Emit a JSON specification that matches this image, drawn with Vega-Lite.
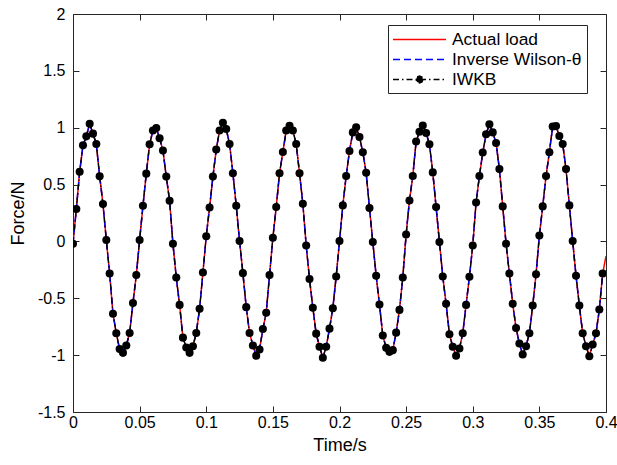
{
"$schema": "https://vega.github.io/schema/vega-lite/v6.json",
"width": 533, "height": 398,
"autosize": {"type": "none"},
"padding": {"left": 73, "top": 14, "right": 11, "bottom": 53},
"background": "white",
"config": {
  "font": "Liberation Sans",
  "view": {"stroke": "#262626", "strokeWidth": 1},
  "axis": {"grid": false, "domainColor": "#262626", "tickColor": "#262626", "labelColor": "#000000", "titleColor": "#000000", "labelFontSize": 16, "titleFontSize": 18, "titleFontWeight": "normal", "tickSize": -6, "labelFlush": false, "labelOverlap": false, "labelFont": "Liberation Sans", "titleFont": "Liberation Sans"}
},
"data": {"values": [
{"t":0,"a":-0.02,"w":-0.02,"k":-0.02},
{"t":0.0025,"a":0.285,"w":0.285,"k":0.285},
{"t":0.005,"a":0.613,"w":0.613,"k":0.613},
{"t":0.0075,"a":0.846,"w":0.846,"k":0.846},
{"t":0.01,"a":0.924,"w":0.924,"k":0.924},
{"t":0.0125,"a":1.035,"w":1.035,"k":1.035},
{"t":0.015,"a":0.948,"w":0.948,"k":0.948},
{"t":0.0175,"a":0.857,"w":0.857,"k":0.857},
{"t":0.02,"a":0.573,"w":0.573,"k":0.573},
{"t":0.0225,"a":0.329,"w":0.329,"k":0.329},
{"t":0.025,"a":0.012,"w":0.012,"k":0.012},
{"t":0.0275,"a":-0.282,"w":-0.282,"k":-0.282},
{"t":0.03,"a":-0.636,"w":-0.636,"k":-0.636},
{"t":0.0325,"a":-0.808,"w":-0.808,"k":-0.808},
{"t":0.035,"a":-0.947,"w":-0.947,"k":-0.947},
{"t":0.0375,"a":-0.98,"w":-0.98,"k":-0.98},
{"t":0.04,"a":-0.915,"w":-0.915,"k":-0.915},
{"t":0.0425,"a":-0.805,"w":-0.805,"k":-0.805},
{"t":0.045,"a":-0.541,"w":-0.541,"k":-0.541},
{"t":0.0475,"a":-0.296,"w":-0.296,"k":-0.296},
{"t":0.05,"a":0.012,"w":0.012,"k":0.012},
{"t":0.0525,"a":0.314,"w":0.314,"k":0.314},
{"t":0.055,"a":0.596,"w":0.596,"k":0.596},
{"t":0.0575,"a":0.854,"w":0.854,"k":0.854},
{"t":0.06,"a":0.976,"w":0.976,"k":0.976},
{"t":0.0625,"a":0.997,"w":0.997,"k":0.997},
{"t":0.065,"a":0.907,"w":0.907,"k":0.907},
{"t":0.0675,"a":0.799,"w":0.799,"k":0.799},
{"t":0.07,"a":0.57,"w":0.57,"k":0.57},
{"t":0.0725,"a":0.357,"w":0.357,"k":0.357},
{"t":0.075,"a":-0.02,"w":-0.02,"k":-0.02},
{"t":0.0775,"a":-0.317,"w":-0.317,"k":-0.317},
{"t":0.08,"a":-0.558,"w":-0.558,"k":-0.558},
{"t":0.0825,"a":-0.846,"w":-0.846,"k":-0.846},
{"t":0.085,"a":-0.933,"w":-0.933,"k":-0.933},
{"t":0.0875,"a":-0.98,"w":-0.98,"k":-0.98},
{"t":0.09,"a":-0.921,"w":-0.921,"k":-0.921},
{"t":0.0925,"a":-0.805,"w":-0.805,"k":-0.805},
{"t":0.095,"a":-0.593,"w":-0.593,"k":-0.593},
{"t":0.0975,"a":-0.273,"w":-0.273,"k":-0.273},
{"t":0.1,"a":0.046,"w":0.046,"k":0.046},
{"t":0.1025,"a":0.299,"w":0.299,"k":0.299},
{"t":0.105,"a":0.57,"w":0.57,"k":0.57},
{"t":0.1075,"a":0.808,"w":0.808,"k":0.808},
{"t":0.11,"a":0.976,"w":0.976,"k":0.976},
{"t":0.1125,"a":1.043,"w":1.043,"k":1.043},
{"t":0.115,"a":0.988,"w":0.988,"k":0.988},
{"t":0.1175,"a":0.857,"w":0.857,"k":0.857},
{"t":0.12,"a":0.599,"w":0.599,"k":0.599},
{"t":0.1225,"a":0.314,"w":0.314,"k":0.314},
{"t":0.125,"a":0.003,"w":0.003,"k":0.003},
{"t":0.1275,"a":-0.279,"w":-0.279,"k":-0.279},
{"t":0.13,"a":-0.578,"w":-0.578,"k":-0.578},
{"t":0.1325,"a":-0.805,"w":-0.805,"k":-0.805},
{"t":0.135,"a":-0.915,"w":-0.915,"k":-0.915},
{"t":0.1375,"a":-1.006,"w":-1.006,"k":-1.006},
{"t":0.14,"a":-0.95,"w":-0.95,"k":-0.95},
{"t":0.1425,"a":-0.77,"w":-0.77,"k":-0.77},
{"t":0.145,"a":-0.628,"w":-0.628,"k":-0.628},
{"t":0.1475,"a":-0.296,"w":-0.296,"k":-0.296},
{"t":0.15,"a":0.032,"w":0.032,"k":0.032},
{"t":0.1525,"a":0.302,"w":0.302,"k":0.302},
{"t":0.155,"a":0.599,"w":0.599,"k":0.599},
{"t":0.1575,"a":0.787,"w":0.787,"k":0.787},
{"t":0.16,"a":0.976,"w":0.976,"k":0.976},
{"t":0.1625,"a":1.017,"w":1.017,"k":1.017},
{"t":0.165,"a":0.976,"w":0.976,"k":0.976},
{"t":0.1675,"a":0.857,"w":0.857,"k":0.857},
{"t":0.17,"a":0.599,"w":0.599,"k":0.599},
{"t":0.1725,"a":0.331,"w":0.331,"k":0.331},
{"t":0.175,"a":-0.035,"w":-0.035,"k":-0.035},
{"t":0.1775,"a":-0.331,"w":-0.331,"k":-0.331},
{"t":0.18,"a":-0.584,"w":-0.584,"k":-0.584},
{"t":0.1825,"a":-0.811,"w":-0.811,"k":-0.811},
{"t":0.185,"a":-0.927,"w":-0.927,"k":-0.927},
{"t":0.1875,"a":-1.023,"w":-1.023,"k":-1.023},
{"t":0.19,"a":-0.927,"w":-0.927,"k":-0.927},
{"t":0.1925,"a":-0.767,"w":-0.767,"k":-0.767},
{"t":0.195,"a":-0.587,"w":-0.587,"k":-0.587},
{"t":0.1975,"a":-0.308,"w":-0.308,"k":-0.308},
{"t":0.2,"a":0.003,"w":0.003,"k":0.003},
{"t":0.2025,"a":0.317,"w":0.317,"k":0.317},
{"t":0.205,"a":0.575,"w":0.575,"k":0.575},
{"t":0.2075,"a":0.796,"w":0.796,"k":0.796},
{"t":0.21,"a":0.959,"w":0.959,"k":0.959},
{"t":0.2125,"a":1.003,"w":1.003,"k":1.003},
{"t":0.215,"a":0.918,"w":0.918,"k":0.918},
{"t":0.2175,"a":0.785,"w":0.785,"k":0.785},
{"t":0.22,"a":0.604,"w":0.604,"k":0.604},
{"t":0.2225,"a":0.294,"w":0.294,"k":0.294},
{"t":0.225,"a":-0.006,"w":-0.006,"k":-0.006},
{"t":0.2275,"a":-0.302,"w":-0.302,"k":-0.302},
{"t":0.23,"a":-0.555,"w":-0.555,"k":-0.555},
{"t":0.2325,"a":-0.828,"w":-0.828,"k":-0.828},
{"t":0.235,"a":-0.936,"w":-0.936,"k":-0.936},
{"t":0.2375,"a":-0.971,"w":-0.971,"k":-0.971},
{"t":0.24,"a":-0.956,"w":-0.956,"k":-0.956},
{"t":0.2425,"a":-0.802,"w":-0.802,"k":-0.802},
{"t":0.245,"a":-0.602,"w":-0.602,"k":-0.602},
{"t":0.2475,"a":-0.317,"w":-0.317,"k":-0.317},
{"t":0.25,"a":0.061,"w":0.061,"k":0.061},
{"t":0.2525,"a":0.36,"w":0.36,"k":0.36},
{"t":0.255,"a":0.575,"w":0.575,"k":0.575},
{"t":0.2575,"a":0.878,"w":0.878,"k":0.878},
{"t":0.26,"a":0.965,"w":0.965,"k":0.965},
{"t":0.2625,"a":1.02,"w":1.02,"k":1.02},
{"t":0.265,"a":0.953,"w":0.953,"k":0.953},
{"t":0.2675,"a":0.854,"w":0.854,"k":0.854},
{"t":0.27,"a":0.607,"w":0.607,"k":0.607},
{"t":0.2725,"a":0.302,"w":0.302,"k":0.302},
{"t":0.275,"a":-0.006,"w":-0.006,"k":-0.006},
{"t":0.2775,"a":-0.308,"w":-0.308,"k":-0.308},
{"t":0.28,"a":-0.549,"w":-0.549,"k":-0.549},
{"t":0.2825,"a":-0.817,"w":-0.817,"k":-0.817},
{"t":0.285,"a":-0.927,"w":-0.927,"k":-0.927},
{"t":0.2875,"a":-1.006,"w":-1.006,"k":-1.006},
{"t":0.29,"a":-0.942,"w":-0.942,"k":-0.942},
{"t":0.2925,"a":-0.808,"w":-0.808,"k":-0.808},
{"t":0.295,"a":-0.558,"w":-0.558,"k":-0.558},
{"t":0.2975,"a":-0.311,"w":-0.311,"k":-0.311},
{"t":0.3,"a":-0.035,"w":-0.035,"k":-0.035},
{"t":0.3025,"a":0.343,"w":0.343,"k":0.343},
{"t":0.305,"a":0.575,"w":0.575,"k":0.575},
{"t":0.3075,"a":0.782,"w":0.782,"k":0.782},
{"t":0.31,"a":0.942,"w":0.942,"k":0.942},
{"t":0.3125,"a":1.031,"w":1.031,"k":1.031},
{"t":0.315,"a":0.959,"w":0.959,"k":0.959},
{"t":0.3175,"a":0.866,"w":0.866,"k":0.866},
{"t":0.32,"a":0.636,"w":0.636,"k":0.636},
{"t":0.3225,"a":0.308,"w":0.308,"k":0.308},
{"t":0.325,"a":-0.02,"w":-0.02,"k":-0.02},
{"t":0.3275,"a":-0.282,"w":-0.282,"k":-0.282},
{"t":0.33,"a":-0.549,"w":-0.549,"k":-0.549},
{"t":0.3325,"a":-0.762,"w":-0.762,"k":-0.762},
{"t":0.335,"a":-0.898,"w":-0.898,"k":-0.898},
{"t":0.3375,"a":-0.994,"w":-0.994,"k":-0.994},
{"t":0.34,"a":-0.921,"w":-0.921,"k":-0.921},
{"t":0.3425,"a":-0.808,"w":-0.808,"k":-0.808},
{"t":0.345,"a":-0.564,"w":-0.564,"k":-0.564},
{"t":0.3475,"a":-0.288,"w":-0.288,"k":-0.288},
{"t":0.35,"a":0.052,"w":0.052,"k":0.052},
{"t":0.3525,"a":0.308,"w":0.308,"k":0.308},
{"t":0.355,"a":0.575,"w":0.575,"k":0.575},
{"t":0.3575,"a":0.785,"w":0.785,"k":0.785},
{"t":0.36,"a":1.011,"w":1.011,"k":1.011},
{"t":0.3625,"a":1.014,"w":1.014,"k":1.014},
{"t":0.365,"a":0.927,"w":0.927,"k":0.927},
{"t":0.3675,"a":0.857,"w":0.857,"k":0.857},
{"t":0.37,"a":0.636,"w":0.636,"k":0.636},
{"t":0.3725,"a":0.317,"w":0.317,"k":0.317},
{"t":0.375,"a":0.003,"w":0.003,"k":0.003},
{"t":0.3775,"a":-0.302,"w":-0.302,"k":-0.302},
{"t":0.38,"a":-0.564,"w":-0.564,"k":-0.564},
{"t":0.3825,"a":-0.808,"w":-0.808,"k":-0.808},
{"t":0.385,"a":-0.921,"w":-0.921,"k":-0.921},
{"t":0.3875,"a":-1.009,"w":-1.009,"k":-1.009},
{"t":0.39,"a":-0.907,"w":-0.907,"k":-0.907},
{"t":0.3925,"a":-0.808,"w":-0.808,"k":-0.808},
{"t":0.395,"a":-0.599,"w":-0.599,"k":-0.599},
{"t":0.3975,"a":-0.282,"w":-0.282,"k":-0.282},
{"t":0.4,"a":-0.13,"w":null,"k":null}
]},
"layer": [
  {
    "mark": {"type": "line", "strokeWidth": 1.5, "clip": true},
    "encoding": {
      "x": {"field": "t", "type": "quantitative", "scale": {"domain": [0, 0.4], "nice": false, "zero": false},
            "axis": {"orient": "bottom", "values": [0,0.05,0.1,0.15,0.2,0.25,0.3,0.35,0.4], "labelExpr": "'' + datum.value", "title": "Time/s", "labelPadding": 8, "titlePadding": 6}},
      "y": {"field": "a", "type": "quantitative", "scale": {"domain": [-1.5, 2], "nice": false, "zero": false},
            "axis": {"orient": "left", "values": [-1.5,-1,-0.5,0,0.5,1,1.5,2], "labelExpr": "'' + datum.value", "title": "Force/N", "labelPadding": 14, "titlePadding": 10}},
      "color": {"datum": "Actual load", "type": "nominal",
                "scale": {"domain": ["Actual load", "Inverse Wilson-θ", "IWKB"], "range": ["#ff0000", "#0000ff", "#000000"]},
                "legend": {"title": null, "orient": "none", "legendX": 315, "legendY": 11, "symbolSize": 289, "symbolStrokeWidth": 1.5, "labelFontSize": 17.4, "labelFont": "Liberation Sans", "labelColor": "#000000", "labelOffset": 40, "padding": 5, "rowPadding": 2, "strokeColor": "#262626", "fillColor": "white", "cornerRadius": 0,
                  "encode": {"symbols": {"update": {
                    "shape": {"signal": "datum.value === 'IWKB' ? 'M-1.118,0L5.118,0M2.41,0L2.29,0.29L2,0.41L1.71,0.29L1.59,0L1.71,-0.29L2,-0.41L2.29,-0.29Z' : 'M-1.118,0L5.118,0'"},
                    "fill": {"signal": "datum.value === 'IWKB' ? '#000000' : 'transparent'"}}}}}},
      "strokeDash": {"datum": "Actual load", "type": "nominal",
                "scale": {"domain": ["Actual load", "Inverse Wilson-θ", "IWKB"], "range": [[1, 0], [7, 4], [6, 3, 1.5, 3]]},
                "legend": {"title": null, "orient": "none", "legendX": 315, "legendY": 11, "symbolSize": 289, "symbolStrokeWidth": 1.5, "labelFontSize": 17.4, "labelFont": "Liberation Sans", "labelColor": "#000000", "labelOffset": 40, "padding": 5, "rowPadding": 2, "strokeColor": "#262626", "fillColor": "white", "cornerRadius": 0,
                  "encode": {"symbols": {"update": {
                    "shape": {"signal": "datum.value === 'IWKB' ? 'M-1.118,0L5.118,0M2.41,0L2.29,0.29L2,0.41L1.71,0.29L1.59,0L1.71,-0.29L2,-0.41L2.29,-0.29Z' : 'M-1.118,0L5.118,0'"},
                    "fill": {"signal": "datum.value === 'IWKB' ? '#000000' : 'transparent'"}}}}}}
    }
  },
  {
    "mark": {"type": "line", "strokeWidth": 1.5, "clip": true},
    "encoding": {
      "x": {"field": "t", "type": "quantitative",
            "axis": {"orient": "top", "values": [0,0.05,0.1,0.15,0.2,0.25,0.3,0.35,0.4], "labels": false, "title": null, "domain": false}},
      "y": {"field": "w", "type": "quantitative",
            "axis": {"orient": "right", "values": [-1.5,-1,-0.5,0,0.5,1,1.5,2], "labels": false, "title": null, "domain": false}},
      "color": {"datum": "Inverse Wilson-θ", "type": "nominal"},
      "strokeDash": {"datum": "Inverse Wilson-θ", "type": "nominal"}
    }
  },
  {
    "mark": {"type": "line", "strokeWidth": 1.3, "clip": true, "point": {"filled": true, "size": 65}},
    "encoding": {
      "x": {"field": "t", "type": "quantitative", "axis": null},
      "y": {"field": "k", "type": "quantitative", "axis": null},
      "color": {"datum": "IWKB", "type": "nominal"},
      "strokeDash": {"datum": "IWKB", "type": "nominal"}
    }
  }
],
"resolve": {"axis": {"x": "independent", "y": "independent"}}
}
